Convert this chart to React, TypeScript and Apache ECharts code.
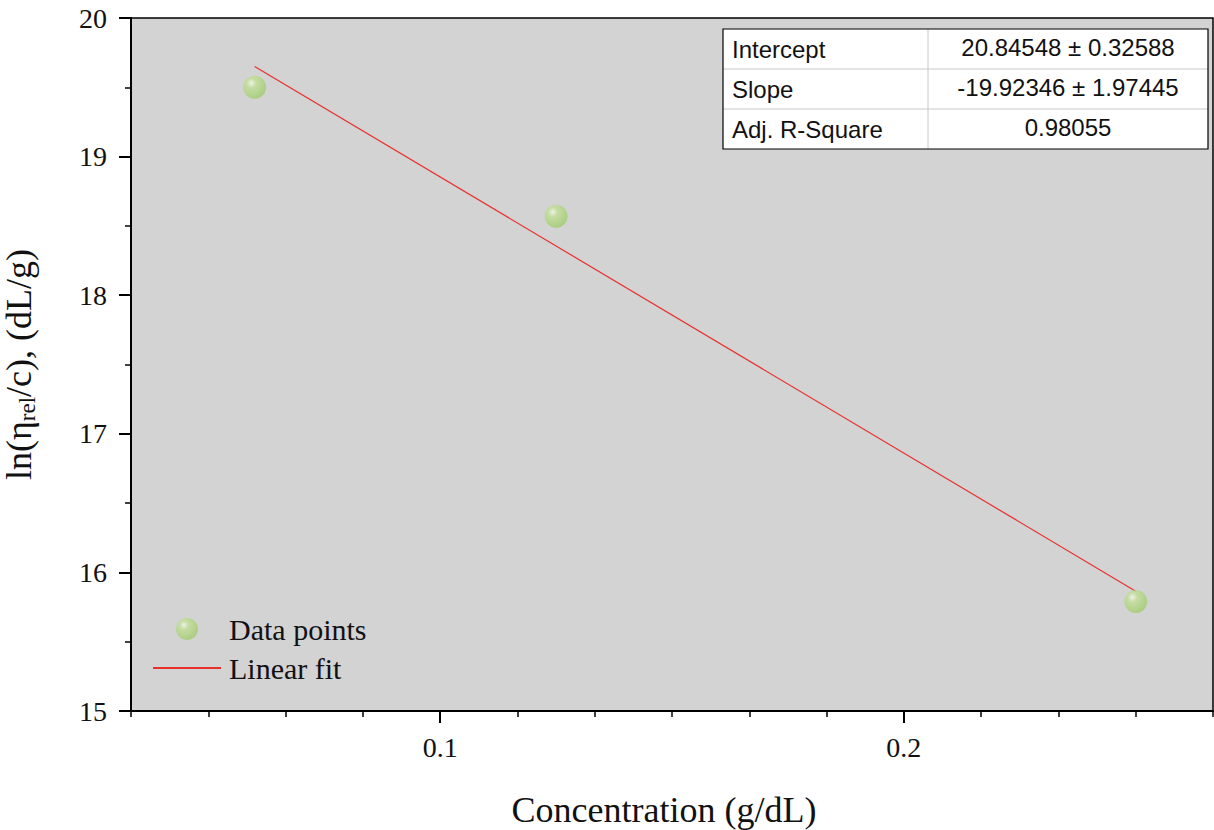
import React, { useEffect, useRef } from "react";
import * as echarts from "echarts";

const concentration = [0.06, 0.125, 0.25];
const lnEtaRelOverC = [19.5, 18.57, 15.79];
const fitIntercept = 20.84548;
const fitSlope = -19.92346;
const tableRows = [
  ["Intercept", "20.84548 ± 0.32588"],
  ["Slope", "-19.92346 ± 1.97445"],
  ["Adj. R-Square", "0.98055"],
];
const xMajorTicks = [0.1, 0.2];
const xMin = 1 / 30;
const xMax = 4 / 15;
const yMin = 15;
const yMax = 20;

const SERIF = "'Liberation Serif', 'Times New Roman', serif";
const SANS = "'Liberation Sans', Arial, sans-serif";

export default function App() {
  const ref = useRef<HTMLDivElement>(null);
  useEffect(() => {
    if (!ref.current) return;
    const chart = echarts.init(ref.current, undefined, { renderer: "svg" });
    const points = concentration.map((x, i) => [x, lnEtaRelOverC[i]]);
    const fx0 = Math.min(...concentration);
    const fx1 = Math.max(...concentration);
    const fitLine = [
      [fx0, fitIntercept + fitSlope * fx0],
      [fx1, fitIntercept + fitSlope * fx1],
    ];

    const tx = 723, ty = 29, tw = 485, rowH = 40, col1 = 205;
    const tableEls: any[] = [
      { type: "rect", shape: { x: tx, y: ty, width: tw, height: rowH * 3 }, style: { fill: "#ffffff", stroke: "none" } },
      { type: "line", shape: { x1: tx, y1: ty + rowH, x2: tx + tw, y2: ty + rowH }, style: { stroke: "#c8c8c8", lineWidth: 1 } },
      { type: "line", shape: { x1: tx, y1: ty + rowH * 2, x2: tx + tw, y2: ty + rowH * 2 }, style: { stroke: "#c8c8c8", lineWidth: 1 } },
      { type: "line", shape: { x1: tx + col1, y1: ty, x2: tx + col1, y2: ty + rowH * 3 }, style: { stroke: "#c8c8c8", lineWidth: 1 } },
      { type: "rect", shape: { x: tx, y: ty, width: tw, height: rowH * 3 }, style: { fill: "none", stroke: "#000", lineWidth: 1.2 } },
    ];
    tableRows.forEach((r, i) => {
      tableEls.push({
        type: "text",
        x: tx + 9,
        y: ty + rowH * i + rowH / 2,
        style: { text: r[0], font: `24px ${SANS}`, fill: "#111", verticalAlign: "middle", align: "left" },
      });
      tableEls.push({
        type: "text",
        x: tx + col1 + (tw - col1) / 2,
        y: ty + rowH * i + rowH / 2 - 2,
        style: { text: r[1], font: `24px ${SANS}`, fill: "#111", verticalAlign: "middle", align: "center" },
      });
    });

    const xLabelFmt = (v: number) => {
      for (const m of xMajorTicks) if (Math.abs(v - m) < 1e-6) return String(m);
      return "";
    };

    chart.setOption({
      animation: false,
      backgroundColor: "#ffffff",
      grid: {
        left: 131,
        top: 18,
        right: 1,
        bottom: 119,
        outerBoundsMode: "none",
        containLabel: false,
        show: true,
        backgroundColor: "#d3d3d3",
        borderColor: "#000",
        borderWidth: 1.5,
      },
      legend: {
        orient: "vertical",
        left: 152,
        top: 614,
        padding: 0,
        itemWidth: 68,
        itemHeight: 22,
        itemGap: 9,
        textStyle: { fontFamily: SERIF, fontSize: 30, color: "#111", padding: [0, 0, 0, 3] },
        data: [
          { name: "Data points" },
          { name: "Linear fit", itemStyle: { opacity: 0 } },
        ],
      },
      xAxis: [
        {
          type: "value",
          min: xMin,
          max: xMax,
          interval: 1 / 60,
          name: "Concentration (g/dL)",
          nameLocation: "middle",
          nameGap: 81,
          nameTextStyle: { fontFamily: SERIF, fontSize: 36, color: "#111", padding: [0, 16, 0, 0] },
          axisLine: { show: true, onZero: false, lineStyle: { color: "#000", width: 2 } },
          axisTick: { show: true, length: 6, lineStyle: { color: "#000", width: 1.5 } },
          axisLabel: { formatter: xLabelFmt, fontFamily: SERIF, fontSize: 28, color: "#111", margin: 22 },
          splitLine: { show: false },
        },
        {
          type: "value",
          min: xMin,
          max: xMax,
          position: "bottom",
          axisLine: { show: false },
          axisTick: { show: true, length: 12, customValues: xMajorTicks, lineStyle: { color: "#000", width: 2 } },
          axisLabel: { show: false },
          splitLine: { show: false },
        },
      ],
      yAxis: {
        type: "value",
        min: yMin,
        max: yMax,
        interval: 1,
        name: "{a|ln(η}{b|rel}{a|/c), (dL/g)}",
        nameLocation: "middle",
        nameGap: 92,
        nameTextStyle: {
          color: "#111",
          rich: {
            a: { fontFamily: SERIF, fontSize: 36, color: "#111" },
            b: { fontFamily: SERIF, fontSize: 23, color: "#111", padding: [17, 0, 0, 0] },
          },
        },
        axisLine: { show: true, onZero: false, lineStyle: { color: "#000", width: 2 } },
        axisTick: { show: true, length: 12, lineStyle: { color: "#000", width: 2 } },
        minorTick: { show: true, splitNumber: 2, length: 6, lineStyle: { color: "#000", width: 1.5 } },
        axisLabel: { fontFamily: SERIF, fontSize: 28, color: "#111", margin: 24 },
        splitLine: { show: false },
      },
      series: [
        {
          name: "Data points",
          type: "scatter",
          data: points,
          symbol: "circle",
          symbolSize: 23,
          itemStyle: {
            color: new echarts.graphic.RadialGradient(0.36, 0.32, 0.72, [
              { offset: 0, color: "#f4faea" },
              { offset: 0.28, color: "#c2df98" },
              { offset: 1, color: "#9fcb6b" },
            ]),
          },
          z: 3,
        },
        {
          name: "Linear fit",
          type: "line",
          data: fitLine,
          symbol: "none",
          itemStyle: { color: "#e8302c" },
          lineStyle: { color: "#e8302c", width: 1.2 },
          z: 2,
        },
      ],
      graphic: tableEls,
    });
    return () => chart.dispose();
  }, []);
  return <div ref={ref} style={{ position: "fixed", left: 0, top: 0, width: 1214, height: 830 }} />;
}
